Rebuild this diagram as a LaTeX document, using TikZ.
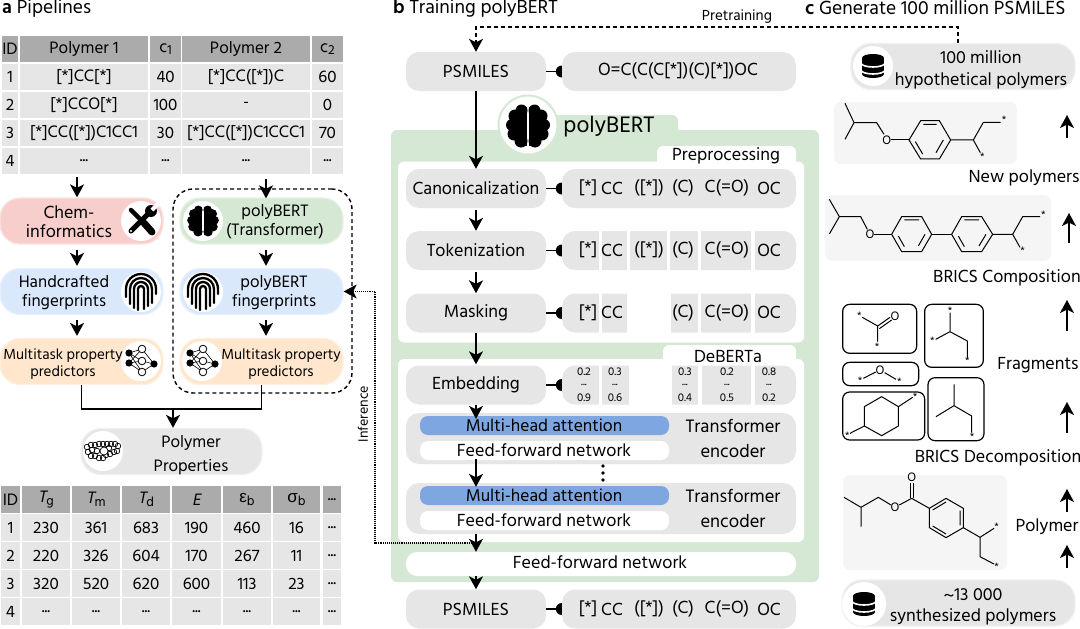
\documentclass[tikz,border=0pt]{standalone}
\usepackage{fontspec}
\setmainfont{Hind Madurai}
\newfontfamily\grec{Liberation Sans}
\newfontfamily\pente[FakeSlant=0.2]{Hind Madurai}
\usetikzlibrary{arrows.meta}

\definecolor{gris}{HTML}{E6E6E6}
\definecolor{grisfonce}{HTML}{ABABAB}
\definecolor{grisclair}{HTML}{F5F5F5}
\definecolor{vert}{HTML}{D5E8D4}
\definecolor{bleu}{HTML}{DAE8FC}
\definecolor{rose}{HTML}{F8CECC}
\definecolor{orange}{HTML}{FFE6CC}
\definecolor{bleufonce}{HTML}{7EA6E0}
\newcommand{\pts}{...}
\newcommand{\indice}[1]{\raisebox{-.3ex}{\fontsize{13.5}{14}\selectfont #1}}

\tikzset{
	cerveau/.pic={
		\foreach \s in {-1,1}{
			\begin{scope}[xscale=\s]
				\fill (-6.5,-15.5) circle (6);
				\fill (-13,-10) circle (6.5);
				\fill (-16,-1) circle (6);
				\fill (-14,8) circle (6.5);
				\fill (-7,15) circle (6.5);
				\fill (-1,-19) rectangle (-11,20);
			\end{scope}
		}
	},
	empreinte/.pic={
		\foreach \r/\l/\d in {15/5/2, 11/12/11, 7/16/14, 3/18/17}{
			\draw[line width=2.3, line cap=round] (-\r,\l) -- (-\r,-3) arc (180:360:\r) -- (\r,\d);
		}
	},
	reseau/.pic={
		\draw[line width=.6] (-12,-8) -- (1,-12) -- (-12,2) -- (1,0) -- (-12,-8) -- (1,11) -- (-12,2);
		\draw[line width=.6] (13,3) -- (1,-12) (13,3) -- (1,0) (13,3) -- (1,11);
		\foreach \x/\y in {-12/-8, -12/2, 13/3}{
			\fill (\x,\y) circle (3.6);
		}
		\foreach \x/\y in {1/-12, 1/0, 1/11}{
			\draw[fill=white, line width=.8] (\x,\y) circle (3.8);
		}
	},
	outils/.pic={
		\draw[line width=4.5, line cap=round] (-10,-11) -- (2,1);
		\draw[line width=7, line cap=round] (3,2) -- (11,11);
		\draw[line width=5, line cap=round] (9,-9) -- (-10,10);
		\fill (10,-10) circle (6);
		\draw[white, line width=4] (11,-11) -- (18,-18);
		\fill[white] (-10,10) circle (1.2);
	},
	base/.pic={
		\fill (-11,-8) rectangle (11,8);
		\fill (0,-8) ellipse (11 and 4);
		\fill (0,8) ellipse (11 and 4);
		\foreach \y in {-3,4}{
			\draw[white, line width=1.6] (-12,\y) arc (180:0:12 and 4);
		}
	},
	amas/.pic={
		\foreach \x/\y in {-16/-4, -12/-6, -8/-6, -4/-7, 0/-7, 4/-7, 8/-7, 12/-7, 15/-5, -15/1, -11/-1, -12/5, -8/5, -4/7, 0/7, 3/4, 7/3, 11/1, 14/0, -6/0, 6/-3}{
			\draw[line width=.7] (\x,\y) circle (2.8);
		}
		\draw[line width=.7, fill=white] (1,0) circle (4);
	}
}

\begin{document}
\begin{tikzpicture}[x=1pt, y=-1pt, font=\fontsize{18}{19}\selectfont]
	\tikzset{
		boite/.style={fill=gris, rounded corners=13, minimum width=140, minimum height=39, inner sep=0pt, align=center},
		pipe/.style={rounded corners=20, minimum width=163, minimum height=46, inner sep=0pt, line width=1.3},
		rond/.style={circle, fill=white, minimum size=40, inner sep=0pt},
		cellule/.style={fill=gris, minimum height=26, inner sep=0pt, font=\fontsize{17}{18}\selectfont},
		entete/.style={cellule, fill=grisfonce},
		texte/.style={inner sep=0pt, align=center},
		tpipe/.style={texte, font=\fontsize{17}{19}\selectfont},
		tmt/.style={texte, font=\fontsize{15}{17}\selectfont},
		titre/.style={inner sep=0pt, anchor=west, font=\fontsize{19.5}{20}\selectfont},
		panneau/.style={rounded corners=6, inner sep=0pt},
		fleche/.style={line width=1.5, -{Stealth[length=13pt, width=14pt, inset=3.5pt]}},
		lien/.style={line width=1.5},
		molecule/.style={line width=1},
		atome/.style={inner sep=0pt, font=\fontsize{12.5}{13}\selectfont},
		etoile/.style={inner sep=0pt, font=\fontsize{11}{11}\selectfont},
		fragment/.style={draw, line width=1.2, rounded corners=7},
		tirets/.style={line width=1.4, dash pattern=on 4pt off 3pt}
	}
	\useasboundingbox (0,0) rectangle (1080,629);

	\node[titre] (ta) at (2,8) {\textbf{a} Pipelines};
	\node[titre] (tb) at (393,8) {\textbf{b} Training polyBERT};
	\node[titre] (tc) at (805,8) {\textbf{c} Generate 100 million PSMILES};

	% premier tableau
	\foreach \x/\w/\t/\nom in {10/16/ID/ha, 84/128/Polymer 1/hb, 165.5/31/c\indice{1}/hc, 246/128/Polymer 2/hd, 327.5/31/c\indice{2}/he}{
		\node[entete, minimum width=\w] (\nom) at (\x,49) {\t};
	}
	\foreach \y/\id/\pa/\ca/\pb/\cb in {77/1/{[*]CC[*]}/40/{[*]CC([*])C}/60, 105/2/{[*]CCO[*]}/100/-/0, 133/3/{[*]CC([*])C1CC1}/30/{[*]CC([*])C1CCC1}/70, 161/4/\pts/\pts/\pts/\pts}{
		\node[cellule, minimum width=16] (i\id) at (10,\y) {\id};
		\node[cellule, minimum width=128] (pa\id) at (84,\y) {\pa};
		\node[cellule, minimum width=31] (ca\id) at (165.5,\y) {\ca};
		\node[cellule, minimum width=128] (pb\id) at (246,\y) {\pb};
		\node[cellule, minimum width=31] (cb\id) at (327.5,\y) {\cb};
	}

	% second tableau
	\foreach \x/\w/\t/\nom in {10.5/19/ID/ja, 46/48/{\pente T}\indice{g}/jb, 96/48/{\pente T}\indice{m}/jc, 146/48/{\pente T}\indice{d}/jd, 196.5/49/{\pente E}/je, 247/48/{\grec ε}\indice{b}/jf, 296.5/47/{\grec σ}\indice{b}/jg, 332/18/\pts/jh}{
		\node[entete, minimum width=\w, minimum height=27] (\nom) at (\x,499.5) {\t};
	}
	\foreach \y/\id/\a/\b/\c/\d/\e/\f/\g in {527.5/1/230/361/683/190/460/16/\pts, 555.5/2/220/326/604/170/267/11/\pts, 583.5/3/320/520/620/600/113/23/\pts, 611.5/4/\pts/\pts/\pts/\pts/\pts/\pts/\pts}{
		\node[cellule, minimum width=19, minimum height=27] (k\id) at (10.5,\y) {\id};
		\node[cellule, minimum width=48, minimum height=27] (ka\id) at (46,\y) {\a};
		\node[cellule, minimum width=48, minimum height=27] (kb\id) at (96,\y) {\b};
		\node[cellule, minimum width=48, minimum height=27] (kc\id) at (146,\y) {\c};
		\node[cellule, minimum width=49, minimum height=27] (kd\id) at (196.5,\y) {\d};
		\node[cellule, minimum width=48, minimum height=27] (ke\id) at (247,\y) {\e};
		\node[cellule, minimum width=47, minimum height=27] (kf\id) at (296.5,\y) {\f};
		\node[cellule, minimum width=18, minimum height=27] (kg\id) at (332,\y) {\g};
	}

	% pipelines
	\node[pipe, fill=rose, draw=rose!60!white] (chem) at (81.5,221) {};
	\node[pipe, fill=bleu, draw=bleu!60!white] (hand) at (81.5,291.5) {};
	\node[pipe, fill=orange, draw=orange!60!white] (multi) at (81.5,361.5) {};
	\node[pipe, fill=vert, draw=vert!60!white] (bert) at (261.5,221) {};
	\node[pipe, fill=bleu, draw=bleu!60!white] (fing) at (261.5,291.5) {};
	\node[pipe, fill=orange, draw=orange!60!white] (multib) at (261.5,361.5) {};
	\node[pipe, fill=gris, draw=gris!60!white, minimum width=181] (props) at (171.5,451.5) {};

	\node[texte] (tchem) at (69,222) {Chem-\\informatics};
	\node[tpipe] (thand) at (64,293) {Handcrafted\\fingerprints};
	\node[tmt] (tmulti) at (63,364) {Multitask property\\predictors};
	\node[tpipe] (tbert) at (275,222) {polyBERT\\(Transformer)};
	\node[tpipe] (tfing) at (274,293) {polyBERT\\fingerprints};
	\node[tmt] (tmultib) at (281,364.5) {Multitask property\\predictors};
	\node[tpipe, font=\fontsize{17}{24}\selectfont] (tprops) at (191,455) {Polymer\\Properties};

	\foreach \x/\y/\nom in {141/221/ra, 141/292/rb, 141/361/rc, 203/221/rd, 203/292/re, 202/361/rf, 103/451/rg}{
		\node[rond] (\nom) at (\x,\y) {};
	}
	\pic at (141,221) {outils};
	\pic at (141,292) {empreinte};
	\pic at (141,361) {reseau};
	\pic[scale=.72] at (203,221) {cerveau};
	\pic at (203,292) {empreinte};
	\pic at (202,361) {reseau};
	\pic at (103,451) {amas};

	\node[draw, tirets, rounded corners=20, minimum width=179, minimum height=204, inner sep=0pt] (cadre) at (262.5,291) {};

	% panneau polyBERT
	\node[panneau, fill=vert, minimum width=428, minimum height=452] (vertb) at (605,356) {};
	\node[panneau, fill=vert, minimum width=170, minimum height=30] (ongletv) at (593,130) {};
	\node[circle, fill=white, draw=vert, line width=2, minimum size=59, inner sep=0pt] (rondb) at (528,125) {};
	\pic at (528,126) {cerveau};
	\node[texte, font=\fontsize{23}{24}\selectfont] (tpoly) at (609,127) {polyBERT};

	\node[panneau, fill=white, minimum width=406, minimum height=181] (prep) at (601,252) {};
	\node[panneau, fill=white, minimum width=139, minimum height=24] (ongletp) at (726.5,158) {};
	\node[texte] (tprep) at (726,156) {Preprocessing};
	\node[panneau, fill=white, minimum width=406, minimum height=183] (deb) at (601,450.5) {};
	\node[panneau, fill=white, minimum width=133, minimum height=24] (ongletd) at (729.5,357) {};
	\node[texte] (tdeb) at (728,356) {DeBERTa};

	\foreach \y/\nom/\t in {71.5/psm/PSMILES, 188.5/can/Canonicalization, 250.5/tok/Tokenization, 313/mas/Masking, 385/emb/Embedding, 609/sor/PSMILES}{
		\node[boite] (\nom) at (476,\y) {\t};
		\node[boite, minimum width=234] (d\nom) at (679,\y) {};
		\draw[lien] (\nom) -- (d\nom);
		\fill (d\nom.west) ++(0,-6) arc (270:90:6) -- cycle;
	}
	\node[texte] (smiles) at (678,71) {O=C(C(C[*])(C)[*])OC};

	\foreach \xa/\xb in {599/602, 627/630, 667/670, 698/701, 751/755}{
		\fill[white] (\xa,230) rectangle (\xb,271);
	}
	\foreach \xa/\xb in {599/602, 627/671, 698/701, 751/755}{
		\fill[white] (\xa,293) rectangle (\xb,333);
	}
	\foreach \xa/\xb in {599/602, 629/672, 698/702, 751/755}{
		\fill[white] (\xa,365) rectangle (\xb,405);
	}

	\foreach \x/\t in {588/{[*]}, 612/CC, 649/{([*])}, 683/(C), 727/C(=O), 769/OC}{
		\node[texte] (a\x) at (\x,188) {\t};
		\node[texte] (b\x) at (\x,250) {\t};
		\node[texte] (s\x) at (\x,609) {\t};
	}
	\foreach \x/\t in {588/{[*]}, 612/CC, 683/(C), 727/C(=O), 769/OC}{
		\node[texte] (c\x) at (\x,312.5) {\t};
	}
	\foreach \x/\h/\b in {584/0.2/0.9, 615/0.3/0.6, 685/0.3/0.4, 727/0.2/0.5, 769/0.8/0.2}{
		\node[texte, font=\fontsize{11.5}{12}\selectfont] (v\x) at (\x,372) {\h};
		\node[texte, font=\fontsize{11.5}{12}\selectfont] (u\x) at (\x,385) {...};
		\node[texte, font=\fontsize{11.5}{12}\selectfont] (w\x) at (\x,398) {\b};
	}

	\foreach \y/\nom in {438.5/ea, 508.5/eb}{
		\node[panneau, fill=gris, rounded corners=13, minimum width=390, minimum height=51] (\nom) at (601,\y) {};
		\node[panneau, fill=bleufonce, rounded corners=8, minimum width=249, minimum height=19] (m\nom) at (544.5,\y-13) {};
		\node[texte, font=\fontsize{17.5}{18}\selectfont] (tm\nom) at (544,\y-13.5) {Multi-head attention};
		\node[panneau, fill=white, rounded corners=8, minimum width=249, minimum height=19] (f\nom) at (544.5,\y+12) {};
		\node[texte] (tf\nom) at (544,\y+11.5) {Feed-forward network};
		\node[texte, font=\fontsize{18.5}{19}\selectfont] (tt\nom) at (733,\y-12.5) {Transformer};
		\node[texte, font=\fontsize{18.5}{19}\selectfont] (tn\nom) at (733,\y+12.5) {encoder};
	}
	\foreach \y/\nom in {466/pa, 473/pb, 480/pc}{
		\fill (603,\y) circle (1.8);
	}
	\node[panneau, fill=white, rounded corners=11, minimum width=390, minimum height=24] (ffn) at (601,564) {};
	\node[texte] (tffn) at (600,562) {Feed-forward network};

	% fleches
	\coordinate (basa) at (77,177);
	\coordinate (basb) at (266,179);
	\coordinate (jonc) at (173,409);
	\coordinate (infer) at (476,543);
	\coordinate (infg) at (375,543);
	\coordinate (pret) at (958,43);
	\coordinate (coude) at (476,27);

	\draw[fleche] (basa) -- ([xshift=-4.5]chem.north);
	\draw[fleche, shorten >=-1pt] (basb) -- ([xshift=4.5]bert.north);
	\draw[fleche, shorten <=5pt, shorten >=2pt] ([xshift=-4.5]chem.south) -- ([xshift=-4.5]hand.north);
	\draw[fleche, shorten <=5pt, shorten >=2pt] ([xshift=-4.5]hand.south) -- ([xshift=-4.5]multi.north);
	\draw[fleche, shorten <=5pt, shorten >=2pt] ([xshift=4.5]bert.south) -- ([xshift=4.5]fing.north);
	\draw[fleche, shorten <=5pt, shorten >=2pt] ([xshift=4.5]fing.south) -- ([xshift=4.5]multib.north);
	\draw[line width=1.5] (multi.south) |- (jonc) -| (multib.south);
	\draw[fleche] (jonc) -- ([xshift=1.5]props.north);
	\draw[line width=1.1, densely dotted, -{Stealth[length=13pt, width=14pt, inset=3.5pt]}] (infer) -- (infg) |- (fing.east);
	\node[texte, rotate=90, font=\fontsize{14}{14}\selectfont] (tinfer) at (363,414) {Inference};

	\draw[tirets, -{Stealth[length=13pt, width=14pt, inset=3.5pt]}] (pret) |- (coude) -- (psm.north);
	\node[texte, font=\fontsize{15}{15}\selectfont] (tpret) at (737,17) {Pretraining};
	\draw[fleche] (psm) -- (can);
	\draw[fleche, shorten <=2pt] (can.south) -- (tok.north);
	\draw[fleche, shorten <=2pt] (tok.south) -- (mas.north);
	\draw[fleche, shorten <=0pt, shorten >=1pt] (mas.south) -- (emb.north);
	\draw[fleche, shorten >=-3pt] (emb.south) -- (mea.north -| emb.south);
	\draw[fleche, shorten >=-1pt] (476,459) -- (meb.north -| emb.south);
	\draw[fleche] (eb.south -| emb.south) -- (ffn.north -| emb.south);
	\draw[fleche] (ffn.south -| emb.south) -- (sor.north);

	% panneau c
	\node[boite, rounded corners=20, draw=gris!60!white, line width=1.3, minimum width=224, minimum height=46] (hypo) at (963,66.5) {};
	\node[texte, font=\fontsize{18}{22}\selectfont] (thypo) at (981,70) {100 million\\hypothetical polymers};
	\node[rond] (rh) at (873,66) {};
	\pic at (873,66) {base};
	\node[boite, rounded corners=20, draw=gris!60!white, line width=1.3, minimum width=233, minimum height=46] (synth) at (958.5,603) {};
	\node[texte, font=\fontsize{18}{21}\selectfont] (tsynth) at (973,606.5) {\textasciitilde13 000\\synthesized polymers};
	\node[rond, minimum size=44] (rs) at (864,604) {};
	\pic at (864,604) {base};

	\fill[grisclair, rounded corners=7] (834,102) rectangle (1017,164);
	\fill[grisclair, rounded corners=7] (825,195) rectangle (1051,261);
	\fill[grisclair, rounded corners=7] (843,475) rectangle (1007,570);

	% molecules
	\begin{scope}[shift={(810,0)}, scale=1/3, molecule]
		\draw (105,310) -- (132,368) -- (105,418) (132,368) -- (200,368) -- (222,403);
		\node[atome] (o1) at (230,420) {O};
		\draw (243,420) -- (297,420);
		\draw (297,420) -- (332,362) -- (388,362) -- (422,420) -- (388,477) -- (332,477) -- cycle;
		\draw (340,373) -- (380,373) (400,420) -- (378,458) (316,425) -- (338,462);
		\draw (422,420) -- (490,420) -- (520,367) -- (572,367);
		\draw (490,420) -- (511,458);
		\node[etoile] (e1) at (582,360) {*};
		\node[etoile] (e2) at (517,470) {*};

		\draw (58,598) -- (88,650) -- (58,702) (88,650) -- (152,650) -- (172,688);
		\node[atome] (o2) at (180,703) {O};
		\draw (193,703) -- (245,703);
		\draw (245,703) -- (275,650) -- (335,650) -- (365,703) -- (335,755) -- (275,755) -- cycle;
		\draw (283,660) -- (327,660) (345,703) -- (325,738) (265,708) -- (283,740);
		\draw (365,703) -- (425,703);
		\draw (425,703) -- (455,650) -- (515,650) -- (548,703) -- (515,755) -- (455,755) -- cycle;
		\draw (463,660) -- (507,660) (528,703) -- (507,738) (445,708) -- (463,740);
		\draw (548,703) -- (608,703) -- (638,650) -- (690,650);
		\draw (608,703) -- (630,742);
		\node[etoile] (e3) at (700,644) {*};
		\node[etoile] (e4) at (638,752) {*};
	\end{scope}
	\begin{scope}[shift={(810,290)}, scale=1/3, molecule]
		\draw[fragment] (98,43) rectangle (320,190);
		\draw[fragment] (344,43) rectangle (520,232);
		\draw[fragment] (98,217) rectangle (326,287);
		\draw[fragment] (98,306) rectangle (344,450);
		\draw[fragment] (354,263) rectangle (522,452);

		\node[etoile] (f1) at (148,76) {*};
		\draw (157,82) -- (203,108) -- (240,82) (208,116) -- (245,90) (203,108) -- (203,155);
		\node[atome] (o3) at (255,78) {O};
		\node[etoile] (f2) at (201,169) {*};

		\node[etoile] (f3) at (420,62) {*};
		\draw (420,68) -- (420,125) -- (377,148) (420,125) -- (472,153) -- (472,203);
		\node[etoile] (f4) at (367,153) {*};
		\node[etoile] (f5) at (472,213) {*};

		\node[etoile] (f6) at (150,272) {*};
		\draw (160,265) -- (197,246) (224,248) -- (258,268);
		\node[atome] (o4) at (210,240) {O};
		\node[etoile] (f7) at (268,274) {*};

		\draw (163,350) -- (215,320) -- (265,350) -- (265,408) -- (215,437) -- (163,408) -- cycle;
		\draw (265,350) -- (308,322) (163,408) -- (120,430);
		\node[etoile] (f8) at (315,319) {*};
		\node[etoile] (f9) at (112,436) {*};

		\draw (432,283) -- (432,347) -- (378,380) (432,347) -- (485,378) -- (485,428);
		\node[etoile] (f10) at (486,439) {*};

		\draw (102,622) -- (153,652) -- (153,710) (153,652) -- (205,622) -- (243,645) (268,645) -- (305,625);
		\node[atome] (o5) at (255,652) {O};
		\draw (301,625) -- (301,578) (309,625) -- (309,578);
		\node[atome] (o6) at (305,563) {O};
		\draw (305,625) -- (358,655);
		\draw (358,655) -- (408,625) -- (460,655) -- (460,713) -- (408,743) -- (358,713) -- cycle;
		\draw (368,660) -- (408,636) (450,662) -- (450,706) (368,708) -- (408,732);
		\draw (460,713) -- (510,742) -- (552,715) (510,742) -- (510,800) -- (552,822);
		\node[etoile] (g1) at (560,709) {*};
		\node[etoile] (g2) at (560,829) {*};
	\end{scope}

	\foreach \y/\t/\x in {178/New polymers/1024, 278/BRICS Composition/1007, 365/Fragments/1038, 458/BRICS Decomposition/998, 527/Polymer/1047}{
		\node[texte] (l\y) at (\x,\y) {\t};
	}
	\foreach \x/\ya/\yb/\nom in {1067/138/115/a, 1069/243/213/b, 1067/331/300/c, 1067/433/402/d, 1067/512/489/e, 1067/568/545/f}{
		\coordinate (pb\nom) at (\x,\ya);
		\coordinate (ph\nom) at (\x,\yb);
		\draw[fleche] (pb\nom) -- (ph\nom);
	}
\end{tikzpicture}
\end{document}
